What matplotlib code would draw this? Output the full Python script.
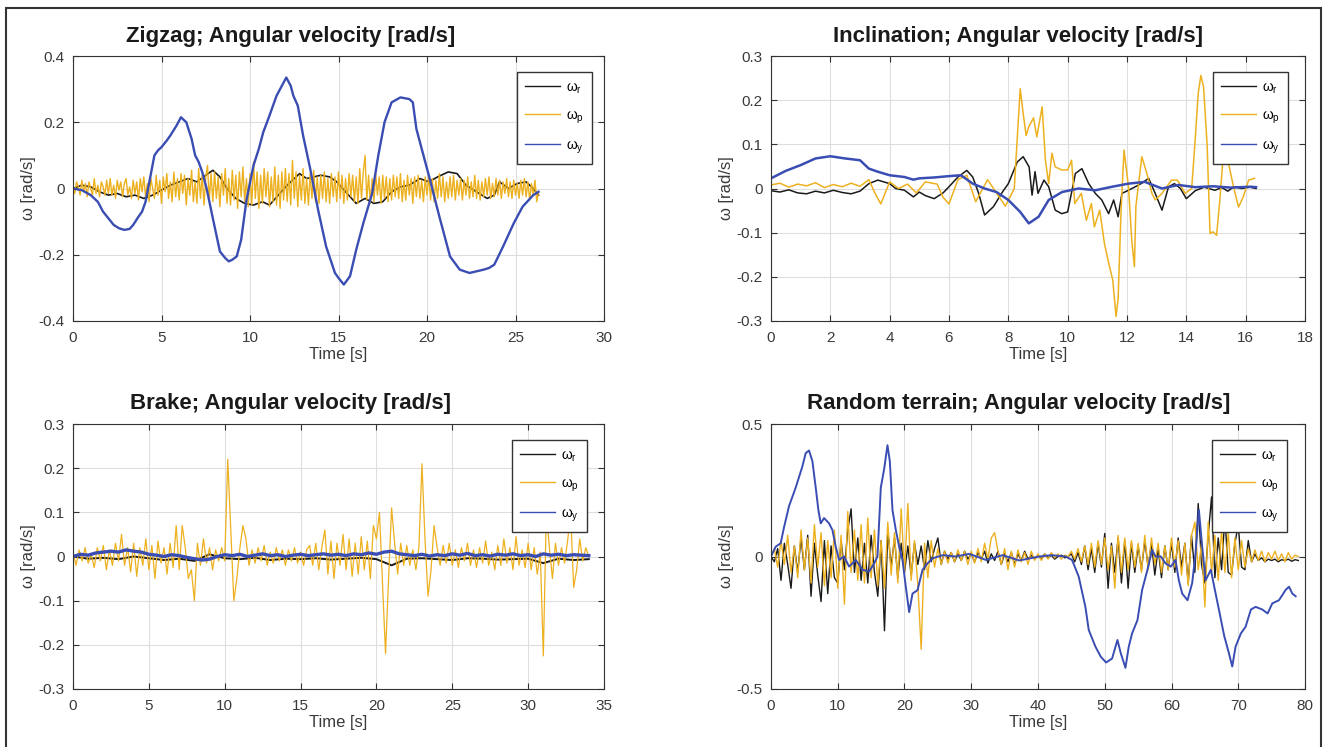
import numpy as np
import matplotlib
matplotlib.use('Agg')
import matplotlib.pyplot as plt
from matplotlib.patches import Rectangle

plt.rcParams['font.family'] = ['Liberation Sans Narrow', 'Liberation Sans', 'DejaVu Sans']
plt.rcParams['mathtext.fontset'] = 'custom'
plt.rcParams['mathtext.rm'] = 'Liberation Sans'
plt.rcParams['mathtext.it'] = 'Liberation Sans'
plt.rcParams['mathtext.default'] = 'regular'

C_R = '#1a1a1a'
C_P = '#EDB120'
C_Y = '#3a4db3'

# ---- Zigzag ----
zz_end = 26.3
zz_pitch = [
    0.01, -0.015, 0.02, 0.005, -0.02, 0.025, -0.01, 0.015, -0.025, 0.02, 0.0, -0.02, 0.03, -0.015, 0.01, -0.025, 0.02, 0.005, -0.02, 0.025,
    -0.015, 0.03, -0.02, 0.01, -0.03, 0.025, -0.005, 0.02, -0.025, 0.015, 0.03, -0.02, 0.005, -0.03, 0.025, -0.015, 0.02, -0.035, 0.03, -0.01,
    0.035, -0.025, 0.015, -0.04, 0.03, 0.0, -0.03, 0.04, -0.02, 0.025, -0.045, 0.035, -0.01, 0.045, -0.03, 0.02, -0.04, 0.05, -0.025, 0.03,
    -0.035, 0.045, -0.015, 0.04, -0.05, 0.03, -0.02, 0.055, -0.04, 0.02, -0.045, 0.06, -0.03, 0.04, -0.05, 0.035, 0.07, -0.035, 0.045, -0.04,
    0.05, -0.03, 0.035, -0.055, 0.045, -0.02, 0.06, -0.045, 0.03, -0.05, 0.055, -0.035, 0.04, -0.06, 0.05, -0.025, 0.065, -0.04, 0.03, -0.055,
    0.045, -0.05, 0.08, -0.03, 0.05, -0.06, 0.04, -0.045, 0.06, -0.025, 0.05, -0.055, 0.035, -0.04, 0.065, -0.05, 0.04, -0.06, 0.05, -0.035,
    0.06, -0.04, 0.045, -0.05, 0.085, -0.03, 0.05, -0.055, 0.04, -0.035, 0.06, -0.045, 0.03, -0.05, 0.045, -0.03, 0.055, -0.04, 0.035, -0.045,
    0.04, -0.03, 0.05, -0.04, 0.03, -0.045, 0.045, -0.025, 0.035, -0.04, 0.05, -0.03, 0.04, -0.045, 0.03, -0.035, 0.045, -0.025, 0.04, -0.04,
    0.035, -0.045, 0.06, -0.03, 0.05, 0.1, -0.035, 0.04, -0.045, 0.03, -0.04, 0.045, -0.02, 0.035, -0.045, 0.04, -0.03, 0.035, -0.04, 0.03,
    -0.035, 0.04, -0.025, 0.035, -0.03, 0.045, -0.04, 0.025, -0.035, 0.04, -0.02, 0.03, -0.045, 0.035, -0.025, 0.04, -0.03, 0.025, -0.04, 0.035,
    -0.02, 0.04, -0.035, 0.03, -0.04, 0.025, -0.03, 0.045, -0.025, 0.035, -0.04, 0.02, -0.03, 0.035, -0.025, 0.04, -0.035, 0.025, -0.02, 0.03,
    -0.035, 0.025, -0.02, 0.035, -0.03, 0.02, -0.025, 0.04, -0.03, 0.025, -0.035, 0.02, -0.025, 0.03, -0.02, 0.035, -0.03, 0.015, -0.025, 0.03,
    -0.02, 0.025, -0.03, 0.02, -0.015, 0.03, -0.025, 0.02, -0.03, 0.025, -0.02, 0.015, -0.03, 0.025, -0.02, 0.03, -0.025, 0.02, -0.035, 0.015,
    -0.02, 0.025, -0.04, -0.01,
]
zz_roll_t = [0, 0.5, 1.0, 1.5, 2.0, 2.5, 3.0, 3.5, 4.0, 4.5, 5.0, 5.5, 6.0, 6.5, 7.0, 7.5, 7.9, 8.3, 8.7, 9.2,
             9.7, 10.2, 10.7, 11.1, 11.6, 12.1, 12.5, 12.8, 13.2, 13.6, 14.0, 14.5, 14.9, 15.4, 16.0, 16.5, 17.0, 17.5, 18.0, 18.5,
             19.0, 19.6, 20.1, 20.6, 21.2, 21.7, 22.2, 22.8, 23.4, 23.8, 24.1, 24.6, 25.1, 25.6, 26.0, 26.3]
zz_roll = [0.0, 0.01, 0.005, -0.01, -0.02, -0.015, -0.025, -0.02, -0.03, -0.02, -0.005, 0.01, 0.02, 0.03, 0.02, 0.04, 0.055, 0.035, 0.0, -0.03,
           -0.045, -0.05, -0.04, -0.05, -0.02, 0.01, 0.03, 0.045, 0.03, 0.035, 0.04, 0.035, 0.02, -0.01, -0.045, -0.03, -0.045, -0.04, -0.01, 0.005,
           0.01, 0.03, 0.02, 0.035, 0.05, 0.045, 0.01, -0.01, -0.03, -0.02, 0.02, 0.0, 0.015, 0.02, 0.0, -0.02]
zz_yaw_t = [0, 0.5, 1.0, 1.4, 1.7, 2.0, 2.3, 2.6, 2.9, 3.2, 3.4, 3.7, 3.9, 4.1, 4.35, 4.6, 4.8, 5.0, 5.3, 5.5,
            5.85, 6.1, 6.4, 6.7, 6.9, 7.1, 7.3, 7.55, 7.9, 8.3, 8.6, 8.8, 9.0, 9.25, 9.5, 9.8, 10.2, 10.5, 10.75, 11.1,
            11.5, 11.8, 12.05, 12.3, 12.45, 12.7, 13.0, 13.4, 13.85, 14.3, 14.8, 15.0, 15.3, 15.65, 16.0, 16.4, 16.9, 17.25, 17.6, 18.0,
            18.5, 19.0, 19.2, 19.4, 19.8, 20.15, 20.7, 21.3, 21.85, 22.4, 22.8, 23.2, 23.5, 23.8, 24.3, 24.9, 25.4, 26.0, 26.3]
zz_yaw = [0.0, -0.005, -0.02, -0.04, -0.07, -0.09, -0.11, -0.12, -0.125, -0.122, -0.11, -0.085, -0.07, -0.04, 0.03, 0.1, 0.115, 0.125, 0.145, 0.16,
          0.19, 0.215, 0.2, 0.15, 0.1, 0.08, 0.05, 0.0, -0.09, -0.19, -0.21, -0.22, -0.215, -0.205, -0.155, -0.035, 0.07, 0.12, 0.17, 0.22,
          0.28, 0.31, 0.335, 0.31, 0.28, 0.25, 0.16, 0.06, -0.065, -0.175, -0.255, -0.27, -0.29, -0.265, -0.185, -0.105, -0.015, 0.1, 0.2, 0.26,
          0.275, 0.27, 0.26, 0.18, 0.1, 0.03, -0.085, -0.205, -0.245, -0.255, -0.25, -0.245, -0.24, -0.23, -0.175, -0.105, -0.055, -0.02, -0.01]

# ---- Inclination ----
in_roll_t = [0, 0.3, 0.6, 0.9, 1.2, 1.5, 1.8, 2.1, 2.4, 2.7, 3.0, 3.3, 3.6, 4.0, 4.2, 4.5, 4.8, 5.0, 5.2, 5.5,
             5.8, 6.0, 6.3, 6.6, 6.8, 7.0, 7.2, 7.5, 7.8, 8.0, 8.3, 8.5, 8.7, 8.8, 8.9, 9.0, 9.2, 9.36, 9.58, 9.8,
             10.0, 10.26, 10.48, 10.71, 10.93, 11.15, 11.38, 11.55, 11.7, 11.83, 12.05, 12.28, 12.5, 12.73, 12.95, 13.18, 13.4, 13.6, 13.8, 14.0,
             14.3, 14.6, 14.96, 15.2, 15.4, 15.6, 15.86, 16.15, 16.35]
in_roll = [-0.005, -0.008, -0.003, -0.01, -0.012, -0.006, -0.01, -0.004, -0.009, -0.012, -0.006, 0.011, 0.019, 0.011, 0.0, -0.004, -0.019, -0.008, -0.016, -0.023,
           -0.01, 0.004, 0.026, 0.041, 0.026, -0.011, -0.06, -0.041, -0.008, 0.011, 0.06, 0.072, 0.049, -0.015, 0.038, -0.011, 0.019, 0.004, -0.049, -0.057,
           -0.053, 0.034, 0.045, 0.011, -0.011, -0.026, -0.057, -0.026, -0.064, -0.011, -0.004, 0.004, 0.012, 0.023, -0.011, -0.049, 0.004, 0.011, 0.0, -0.023,
           -0.005, 0.003, -0.004, 0.002, -0.006, 0.004, 0.0, 0.003, 0.0]
in_pitch_t = [0, 0.3, 0.6, 0.9, 1.2, 1.5, 1.8, 2.1, 2.4, 2.7, 3.0, 3.3, 3.5, 3.7, 4.0, 4.3, 4.6, 4.9, 5.2, 5.6,
              5.8, 6.0, 6.3, 6.6, 6.9, 7.3, 7.6, 7.9, 8.2, 8.4, 8.5, 8.6, 8.69, 8.85, 8.96, 9.14, 9.25, 9.36, 9.47, 9.58,
              9.8, 10.0, 10.13, 10.24, 10.46, 10.63, 10.8, 10.9, 11.08, 11.24, 11.41, 11.52, 11.63, 11.7, 11.8, 11.9, 12.05, 12.16, 12.25, 12.3,
              12.5, 12.67, 12.84, 12.95, 13.18, 13.5, 13.7, 13.96, 14.18, 14.29, 14.4, 14.49, 14.58, 14.7, 14.8, 14.9, 15.02, 15.13, 15.25, 15.4,
              15.59, 15.76, 15.92, 16.1, 16.3]
in_pitch = [0.008, 0.012, 0.003, 0.01, 0.006, 0.013, 0.002, 0.009, 0.004, 0.012, 0.005, 0.02, -0.01, -0.035, 0.015, 0.0, 0.01, -0.01, 0.015, 0.01,
            -0.02, -0.035, 0.02, 0.03, -0.03, 0.02, -0.01, -0.04, 0.0, 0.226, 0.17, 0.12, 0.14, 0.16, 0.117, 0.185, 0.064, 0.011, 0.08, 0.049,
            0.042, 0.042, 0.064, -0.034, -0.011, -0.072, -0.034, -0.087, -0.049, -0.125, -0.177, -0.207, -0.29, -0.25, -0.049, 0.087, 0.004, -0.117, -0.177, -0.04,
            0.072, 0.034, -0.011, -0.026, -0.011, 0.019, 0.019, -0.011, 0.0, 0.102, 0.215, 0.256, 0.23, 0.1, -0.102, -0.098, -0.106, -0.026, 0.08, 0.064,
            0.004, -0.042, -0.019, 0.019, 0.023]
in_yaw_t = [0, 0.5, 1.0, 1.5, 2.0, 2.5, 3.0, 3.3, 3.6, 4.0, 4.5, 4.8, 5.0, 5.5, 6.0, 6.4, 6.8, 7.2, 7.6, 8.0,
            8.4, 8.69, 9.02, 9.36, 9.81, 10.37, 10.93, 11.5, 12.05, 12.6, 13.18, 13.74, 14.3, 14.9, 15.5, 16.15, 16.35]
in_yaw = [0.023, 0.04, 0.053, 0.068, 0.073, 0.068, 0.064, 0.045, 0.038, 0.03, 0.026, 0.02, 0.023, 0.025, 0.028, 0.03, 0.011, 0.0, -0.008, -0.026,
          -0.053, -0.079, -0.064, -0.026, -0.008, 0.0, -0.004, 0.004, 0.011, 0.015, 0.0, 0.008, 0.003, 0.005, 0.002, 0.004, 0.003]

# ---- Brake ----
br_end = 34.0
br_pitch = [
    0.01, -0.02, 0.015, -0.01, 0.02, -0.015, 0.005, -0.025, 0.02, -0.01,
    0.025, -0.03, 0.015, -0.02, 0.03, -0.01, 0.05, -0.02, 0.02, -0.035,
    0.03, -0.045, 0.02, -0.02, 0.04, -0.03, 0.025, -0.05, 0.035, -0.015,
    0.02, -0.04, 0.03, -0.025, 0.07, -0.03, 0.07, 0.02, -0.05, -0.03,
    -0.1, 0.03, -0.02, 0.04, -0.015, 0.02, -0.03, 0.015, -0.01, 0.02,
    -0.01, 0.22, 0.06, -0.1, -0.05, 0.02, 0.07, 0.04, -0.02, 0.015,
    -0.015, 0.02, -0.01, 0.025, -0.02, 0.01, -0.015, 0.02, -0.01, 0.015,
    -0.02, 0.015, -0.01, 0.02, -0.015, 0.01, -0.02, 0.015, 0.025, -0.02,
    0.03, -0.03, 0.02, 0.06, -0.04, 0.035, -0.05, 0.03, -0.02, 0.05,
    -0.03, 0.04, -0.045, 0.03, -0.04, 0.045, -0.03, 0.035, -0.05, 0.07,
    0.04, 0.1, -0.06, -0.22, -0.05, 0.11, 0.03, -0.04, 0.03, -0.02,
    0.025, -0.02, 0.015, -0.03, 0.02, 0.21, 0.04, -0.09, -0.03, 0.07,
    0.02, -0.02, 0.025, -0.015, 0.03, -0.02, 0.015, -0.025, 0.02, -0.01,
    0.03, -0.02, 0.015, -0.025, 0.02, -0.015, 0.035, -0.02, 0.01, -0.03,
    0.025, -0.02, 0.04, -0.015, 0.02, -0.03, 0.045, -0.02, 0.015, -0.025,
    0.03, -0.03, 0.02, -0.04, 0.01, -0.225, 0.1, 0.02, -0.05, 0.03,
    -0.02, 0.02, -0.015, 0.035, 0.1, -0.07, -0.03, 0.04, -0.01, 0.02,
    0.0,
]
br_yaw = [
    0.0, 0.005, 0.003, 0.008, 0.01, 0.012, 0.01, 0.015, 0.012, 0.01,
    0.005, 0.003, 0.0, 0.004, 0.002, -0.002, -0.005, -0.008, -0.006, 0.0,
    0.004, 0.002, 0.005, 0.0, 0.003, 0.006, 0.002, 0.004, 0.0, 0.003,
    0.005, 0.002, 0.004, 0.006, 0.003, 0.005, 0.002, 0.006, 0.004, 0.008,
    0.005, 0.01, 0.012, 0.006, 0.004, 0.002, 0.005, 0.001, 0.004, 0.002,
    0.006, 0.003, 0.007, 0.002, 0.004, 0.001, 0.005, 0.003, 0.006, 0.002,
    0.004, 0.0, 0.006, 0.003, 0.005, 0.002, 0.004, 0.003, 0.002,
]
br_roll = [0.0, -0.005, -0.003, -0.006, 0.0, -0.004, -0.008, -0.005, -0.01, 0.005,
           -0.004, -0.006, -0.003, -0.008, -0.005, -0.006, -0.004, -0.007, -0.005, -0.003,
           -0.006, -0.02, -0.005, -0.004, -0.006, -0.008, -0.004, -0.005, -0.007, -0.006,
           -0.005, -0.015, -0.005, -0.008, -0.006]

# ---- Random terrain ----
rt_end = 79.0
rt_pitch = [
    0.0, 0.03, -0.04, 0.06, -0.03, 0.08, -0.06, 0.04, -0.08, 0.1,
    -0.05, 0.07, -0.1, 0.12, -0.04, 0.09, -0.11, 0.06, -0.08, 0.1,
    -0.12, 0.08, -0.18, 0.17, -0.06, 0.1, -0.09, 0.12, -0.1, 0.145,
    -0.08, 0.1, -0.11, 0.06, -0.12, 0.13, -0.07, 0.09, -0.1, 0.18,
    -0.06, 0.2, -0.09, 0.06, -0.11, -0.35, 0.05, -0.08, 0.06, -0.04,
    0.03, -0.03, 0.02, -0.025, 0.015, -0.02, 0.025, -0.015, 0.02, -0.03,
    0.02, -0.025, 0.03, -0.02, 0.05, -0.01, 0.07, 0.09, 0.02, -0.03,
    0.03, -0.05, 0.02, -0.04, 0.025, -0.02, 0.015, -0.03, 0.02, -0.015,
    0.01, -0.015, 0.01, -0.01, 0.015, -0.005, 0.01, -0.01, 0.005, 0.0,
    0.02, -0.01, 0.03, -0.02, 0.04, -0.03, 0.05, -0.04, 0.06, -0.03,
    0.07, -0.05, 0.04, -0.12, 0.08, -0.06, 0.07, -0.05, 0.06, -0.04,
    0.05, -0.06, 0.08, -0.05, 0.07, -0.03, 0.05, -0.06, 0.04, -0.05,
    0.07, -0.04, 0.06, -0.07, 0.05, -0.11, 0.08, 0.13, -0.05, 0.05,
    -0.19, 0.13, -0.06, 0.08, -0.09, 0.1, -0.06, 0.09, -0.08, 0.07,
    -0.05, 0.06, -0.04, 0.03, -0.02, 0.025, -0.015, 0.02, -0.02, 0.015,
    -0.01, 0.02, -0.015, 0.01, -0.02, 0.015, -0.01, 0.005, 0.0,
]
rt_roll = [
    0.0, -0.02, 0.03, -0.09, 0.05, -0.03, -0.12, 0.04, -0.06, 0.07,
    -0.05, 0.08, -0.15, 0.05, -0.07, -0.17, 0.06, -0.14, 0.04, -0.08,
    -0.1, 0.06, -0.05, 0.1, 0.18, -0.06, 0.07, -0.09, 0.05, -0.1,
    0.08, -0.06, -0.15, 0.06, -0.28, 0.1, -0.04, 0.07, -0.08, 0.05,
    -0.06, 0.04, -0.07, 0.05, -0.03, 0.04, -0.05, 0.06, -0.02, 0.03,
    0.07, -0.03, 0.02, -0.01, 0.015, -0.02, 0.01, -0.015, 0.02, -0.01,
    0.01, -0.02, 0.015, -0.01, 0.02, -0.025, 0.01, -0.015, 0.02, -0.03,
    0.01, -0.02, 0.015, -0.03, 0.01, -0.015, 0.02, -0.01, 0.005, -0.01,
    0.005, -0.01, 0.01, -0.005, 0.005, -0.01, 0.0, 0.005, -0.005, 0.0,
    0.01, -0.02, 0.015, -0.03, 0.04, -0.05, 0.03, -0.06, 0.05, -0.04,
    0.087, -0.12, 0.05, -0.06, 0.07, -0.1, 0.06, -0.12, 0.05, -0.06,
    0.04, -0.05, 0.06, -0.04, 0.05, -0.07, 0.03, -0.08, 0.04, -0.05,
    0.05, -0.06, 0.07, -0.04, 0.05, -0.1, 0.08, -0.06, 0.2, -0.03,
    -0.1, 0.08, 0.225, -0.08, 0.07, -0.05, 0.15, -0.06, -0.07, 0.05,
    0.12, -0.04, -0.05, 0.06, -0.02, 0.01, -0.015, -0.005, -0.02, -0.01,
    -0.015, -0.01, -0.02, -0.012, -0.015, -0.01, -0.018, -0.012, -0.015,
]
rt_yaw_t = [0, 0.7, 1.45, 1.95, 2.7, 3.7, 4.7, 5.2, 5.7, 6.2, 6.7, 7.1, 7.45, 7.95, 8.7, 9.2, 9.7, 10.2, 10.95, 11.7,
            12.7, 13.7, 14.7, 15.45, 15.95, 16.45, 16.95, 17.45, 17.8, 18.2, 18.7, 19.2, 19.7, 20.2, 20.7, 21.2, 21.95, 22.7, 23.45, 24.2,
            25.7, 27.7, 29.7, 32.2, 34.7, 37.2, 40.2, 42.0, 44.1, 45.1, 46.1, 47.1, 47.6, 48.6, 49.4, 50.2, 51.1, 51.9, 52.4, 53.1,
            53.6, 54.1, 54.9, 55.6, 56.4, 57.1, 57.6, 58.4, 59.1, 59.9, 60.6, 61.1, 61.6, 62.4, 63.1, 63.6, 64.1, 64.6, 65.1, 65.9,
            66.4, 67.1, 67.9, 68.6, 69.1, 69.6, 70.4, 71.1, 71.9, 72.6, 73.6, 74.4, 75.1, 76.1, 77.1, 77.6, 78.1, 78.6]
rt_yaw = [0.0, 0.037, 0.05, 0.11, 0.19, 0.26, 0.34, 0.39, 0.4, 0.36, 0.26, 0.175, 0.125, 0.145, 0.125, 0.1, 0.037, -0.013, 0.0, -0.038,
          -0.013, -0.05, -0.057, -0.026, 0.0, 0.26, 0.33, 0.42, 0.36, 0.175, 0.1, 0.037, -0.013, -0.115, -0.21, -0.14, -0.127, -0.05, -0.026, -0.007,
          0.005, 0.0, 0.01, -0.013, 0.005, -0.015, 0.0, 0.005, 0.0, -0.013, -0.076, -0.19, -0.277, -0.34, -0.378, -0.4, -0.385, -0.315, -0.365, -0.42,
          -0.34, -0.29, -0.24, -0.126, -0.05, 0.025, 0.0, 0.0, -0.026, -0.038, -0.013, -0.09, -0.14, -0.165, -0.1, 0.012, 0.176, 0.037, -0.09, -0.05,
          -0.114, -0.2, -0.3, -0.365, -0.415, -0.34, -0.29, -0.265, -0.2, -0.19, -0.2, -0.215, -0.177, -0.165, -0.126, -0.114, -0.14, -0.15]

titles = ['Zigzag; Angular velocity [rad/s]', 'Inclination; Angular velocity [rad/s]',
          'Brake; Angular velocity [rad/s]', 'Random terrain; Angular velocity [rad/s]']
xlims = [30, 18, 35, 80]
xticks = [[0, 5, 10, 15, 20, 25, 30], [0, 2, 4, 6, 8, 10, 12, 14, 16, 18],
          [0, 5, 10, 15, 20, 25, 30, 35], [0, 10, 20, 30, 40, 50, 60, 70, 80]]
yticks = [[-0.4, -0.2, 0, 0.2, 0.4], [-0.3, -0.2, -0.1, 0, 0.1, 0.2, 0.3],
          [-0.3, -0.2, -0.1, 0, 0.1, 0.2, 0.3], [-0.5, 0, 0.5]]
ytick_labels = [['-0.4', '-0.2', '0', '0.2', '0.4'], ['-0.3', '-0.2', '-0.1', '0', '0.1', '0.2', '0.3'],
                ['-0.3', '-0.2', '-0.1', '0', '0.1', '0.2', '0.3'], ['-0.5', '0', '0.5']]
legend_labels = [r'$\omega_r$', r'$\omega_p$', r'$\omega_y$']

W, H = 1327, 747
fig = plt.figure(figsize=(W / 100, H / 100), dpi=100)

# axes boxes in pixels: left, top, right, bottom
boxes = [(73, 56, 604, 321), (771, 56, 1305, 321), (73, 424, 604, 689), (771, 424, 1305, 689)]
title_x = [0.41, 0.462, 0.409, 0.464]
title_y = [1.072, 1.072, 1.079, 1.079]
leg_gap = [12, 17, 17, 18]

axes = []
for (l, t, r, b) in boxes:
    axes.append(fig.add_axes([l / W, 1 - b / H, (r - l) / W, (b - t) / H]))

ax = axes[0]
ax.plot(zz_roll_t, zz_roll, color=C_R, lw=1.2)
ax.plot(np.linspace(0, zz_end, len(zz_pitch)), zz_pitch, color=C_P, lw=1.0)
ax.plot(zz_yaw_t, zz_yaw, color=C_Y, lw=1.7)

ax = axes[1]
ax.plot(in_roll_t, in_roll, color=C_R, lw=1.1)
ax.plot(in_pitch_t, in_pitch, color=C_P, lw=1.1)
ax.plot(in_yaw_t, in_yaw, color=C_Y, lw=1.8)

ax = axes[2]
ax.plot(np.linspace(0, br_end, len(br_roll)), br_roll, color=C_R, lw=1.4)
ax.plot(np.linspace(0, br_end, len(br_pitch)), br_pitch, color=C_P, lw=0.9)
ax.plot(np.linspace(0, br_end, len(br_yaw)), br_yaw, color=C_Y, lw=2.4)

ax = axes[3]
ax.plot(np.linspace(0, rt_end, len(rt_roll)), rt_roll, color=C_R, lw=1.0)
ax.plot(np.linspace(0, rt_end, len(rt_pitch)), rt_pitch, color=C_P, lw=1.0)
ax.plot(rt_yaw_t, rt_yaw, color=C_Y, lw=1.4)

for i, ax in enumerate(axes):
    l, t, r, b = boxes[i]
    ax.set_xlim(0, xlims[i])
    ax.set_ylim(yticks[i][0], yticks[i][-1])
    ax.set_xticks(xticks[i])
    ax.set_yticks(yticks[i])
    ax.set_yticklabels(ytick_labels[i])
    ax.grid(True, color='#dedede', lw=0.8)
    ax.set_axisbelow(True)
    ax.tick_params(direction='in', top=True, right=True, length=4, width=0.8,
                   color='#333333', labelcolor='#3a3a3a', labelsize=11)
    ax.tick_params(axis='x', pad=7)
    ax.tick_params(axis='y', pad=6)
    for s in ax.spines.values():
        s.set_color('#333333')
        s.set_linewidth(0.8)
    ax.set_xlabel('Time [s]', fontsize=12, color='#3a3a3a')
    ax.set_ylabel('ω [rad/s]', fontsize=12, color='#3a3a3a')
    ax.xaxis.set_label_coords(0.5, -33 / (b - t))
    ax.yaxis.set_label_coords(-44 / (r - l), 0.5)
    ax.xaxis.label.set_va('center')
    ax.yaxis.label.set_va('center')
    ax.text(title_x[i], title_y[i], titles[i], transform=ax.transAxes, ha='center', va='center',
            fontsize=16, fontweight='bold', color='#1a1a1a')
    leg = ax.legend(legend_labels, loc='upper right',
                    bbox_to_anchor=(1 - leg_gap[i] / (r - l), 1 - 16 / (b - t)),
                    borderaxespad=0, fontsize=10, handlelength=2.5, handletextpad=0.4,
                    labelspacing=0.9, borderpad=0.6, fancybox=False, framealpha=1)
    leg.get_frame().set_edgecolor('#333333')
    leg.get_frame().set_linewidth(1.0)
    for line in leg.get_lines():
        line.set_linewidth(1.0)

fig.patches.append(Rectangle((6 / W, -0.01), (1321 - 6) / W, 1.01 - 8 / H, transform=fig.transFigure,
                             fill=False, edgecolor='#333333', lw=1.5))

fig.savefig('out.png', dpi=100)
